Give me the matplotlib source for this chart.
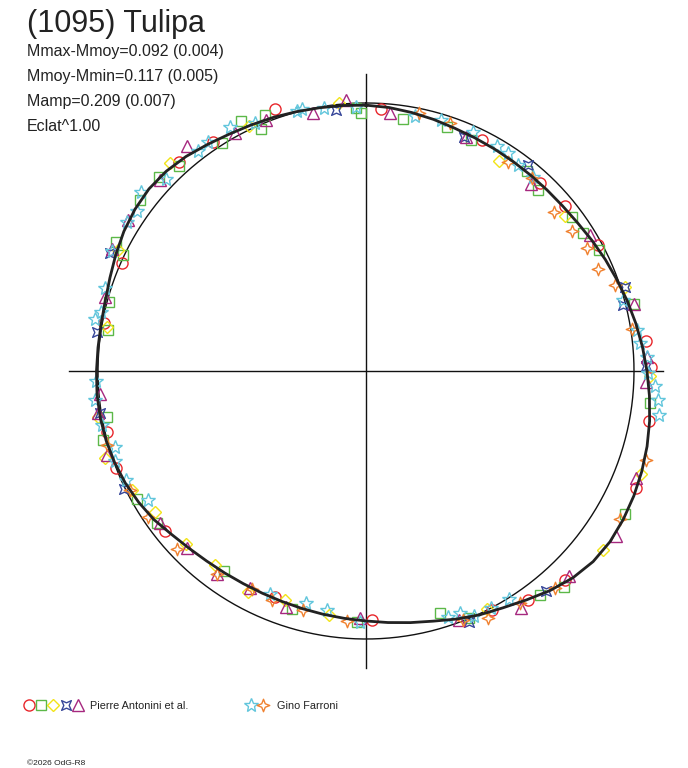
import numpy as np
import matplotlib
matplotlib.use("Agg")
import matplotlib.pyplot as plt
from matplotlib.path import Path

plt.rcParams['font.family'] = ['Liberation Sans', 'DejaVu Sans']

# --- données (phase 0-1, écart de magnitude au niveau moyen) ---
title = "(1095) Tulipa"
stats = ["Mmax-Mmoy=0.092 (0.004)", "Mmoy-Mmin=0.117 (0.005)",
         "Mamp=0.209 (0.007)", "Eclat^1.00"]

# courbe ajustée, relevée tous les 5 degrés de phase
curve_phase = [0.0000, 0.0139, 0.0278, 0.0417, 0.0556, 0.0694, 0.0833, 0.0972, 0.1111, 0.1250,
               0.1389, 0.1528, 0.1667, 0.1806, 0.1944, 0.2083, 0.2222, 0.2361, 0.2500, 0.2639,
               0.2778, 0.2917, 0.3056, 0.3194, 0.3333, 0.3472, 0.3611, 0.3750, 0.3889, 0.4028,
               0.4167, 0.4306, 0.4444, 0.4583, 0.4722, 0.4861, 0.5000, 0.5139, 0.5278, 0.5417,
               0.5556, 0.5694, 0.5833, 0.5972, 0.6111, 0.6250, 0.6389, 0.6528, 0.6667, 0.6806,
               0.6944, 0.7083, 0.7222, 0.7361, 0.7500, 0.7639, 0.7778, 0.7917, 0.8056, 0.8194,
               0.8333, 0.8472, 0.8611, 0.8750, 0.8889, 0.9028, 0.9167, 0.9306, 0.9444, 0.9583,
               0.9722, 0.9861, 1.0000]
curve_dmag = [0.0089, 0.0143, 0.0225, 0.0308, 0.0392, 0.0442, 0.0476, 0.0497, 0.0506, 0.0497,
              0.0468, 0.0400, 0.0287, 0.0163, 0.0041, -0.0101, -0.0240, -0.0378, -0.0514, -0.0649,
              -0.0781, -0.0894, -0.0987, -0.1061, -0.1116, -0.1145, -0.1097, -0.0950, -0.0725, -0.0456,
              -0.0221, -0.0041, 0.0163, 0.0371, 0.0519, 0.0647, 0.0755, 0.0829, 0.0886, 0.0930,
              0.0961, 0.0965, 0.0952, 0.0908, 0.0842, 0.0733, 0.0582, 0.0371, 0.0225, 0.0102,
              0.0020, -0.0041, -0.0073, -0.0081, -0.0061, -0.0041, -0.0041, -0.0081, -0.0181, -0.0319,
              -0.0456, -0.0553, -0.0603, -0.0572, -0.0476, -0.0339, -0.0221, -0.0141, -0.0081, -0.0020,
              0.0028, 0.0061, 0.0089]

red_phase = [0.947, 0.009, 0.074, 0.119, 0.140, 0.171, 0.233, 0.248, 0.278, 0.315, 0.379,
             0.402, 0.423, 0.496, 0.561, 0.643, 0.691, 0.713, 0.779, 0.816, 0.884, 0.906]
red_dmag = [-0.036, 0.024, 0.041, 0.048, 0.041, 0.015, -0.054, -0.068, -0.077, -0.102, -0.081,
            -0.050, -0.010, 0.080, 0.105, 0.047, -0.001, 0.009, 0.007, 0.004, -0.048, -0.030]

green_phase = [0.926, 0.940, 0.935, 0.994, 0.997, 0.023, 0.051, 0.068, 0.108, 0.121, 0.148, 0.160,
               0.174, 0.211, 0.268, 0.330, 0.382, 0.395, 0.437, 0.453, 0.506, 0.548, 0.598, 0.650,
               0.669, 0.709, 0.722, 0.775, 0.792, 0.821, 0.826, 0.853, 0.870, 0.882, 0.910]
green_dmag = [-0.045, -0.029, 0.018, 0.021, 0.040, 0.056, 0.044, 0.058, 0.048, 0.075, 0.046, 0.043,
              0.022, -0.034, -0.070, -0.108, -0.096, -0.060, 0.000, 0.061, 0.072, 0.079, 0.097, 0.038,
              0.022, -0.015, 0.019, 0.027, 0.009, -0.005, -0.052, -0.060, -0.062, -0.037, -0.006]

yellow_phase = [0.929, 0.984, 0.090, 0.145, 0.200, 0.253, 0.307, 0.353, 0.425, 0.524, 0.554,
                0.578, 0.605, 0.628, 0.656, 0.675, 0.699, 0.723, 0.777, 0.822, 0.880]
yellow_dmag = [-0.013, -0.007, 0.080, 0.066, -0.017, -0.063, -0.098, -0.114, 0.004, 0.089, 0.109,
               0.075, 0.094, 0.077, 0.060, 0.021, -0.027, -0.014, 0.020, -0.031, -0.069]

blue_phase = [0.982, 0.063, 0.106, 0.200, 0.210, 0.247, 0.391, 0.438, 0.678, 0.725, 0.773, 0.819]
blue_dmag = [0.022, 0.059, 0.026, -0.016, 0.012, -0.048, -0.065, -0.012, -0.006, -0.005, -0.016, -0.054]

purple_phase = [0.920, 0.940, 0.968, 0.988, 0.015, 0.064, 0.115, 0.163, 0.211, 0.242, 0.256,
                0.310, 0.343, 0.376, 0.408, 0.443, 0.504, 0.552, 0.578, 0.601, 0.626, 0.649,
                0.700, 0.725, 0.736, 0.794, 0.821, 0.840, 0.869, 0.893]
purple_dmag = [-0.014, -0.010, 0.020, -0.015, 0.038, 0.056, 0.079, 0.024, -0.031, -0.054, -0.048,
               -0.086, -0.121, -0.080, -0.059, 0.007, 0.087, 0.080, 0.093, 0.069, 0.070, 0.049,
               -0.018, -0.012, 0.004, -0.014, -0.054, -0.054, -0.053, -0.078]

cyan_phase = [0.919, 0.933, 0.962, 0.975, 0.994, 0.030, 0.046, 0.067, 0.084, 0.092, 0.101, 0.113,
              0.207, 0.226, 0.234, 0.242, 0.251, 0.258, 0.266, 0.274, 0.411, 0.423, 0.434, 0.441,
              0.449, 0.504, 0.526, 0.540, 0.565, 0.665, 0.682, 0.695, 0.703, 0.718, 0.733, 0.744,
              0.780, 0.785, 0.799, 0.820, 0.839, 0.847, 0.857, 0.872, 0.896, 0.904, 0.959]
cyan_dmag = [-0.046, -0.014, -0.006, 0.008, 0.016, 0.035, 0.024, 0.026, 0.032, 0.031, 0.050, 0.048,
             0.004, -0.023, -0.029, -0.052, -0.057, -0.084, -0.099, -0.108, -0.006, 0.001, 0.003, 0.033,
             0.038, 0.072, 0.108, 0.122, 0.108, 0.062, 0.019, 0.004, 0.022, -0.007, -0.018, -0.008,
             -0.030, -0.015, -0.022, -0.051, -0.053, -0.044, -0.076, -0.037, -0.035, -0.041, -0.004]

orange_phase = [0.032, 0.052, 0.095, 0.113, 0.138, 0.155, 0.169, 0.184, 0.197, 0.225, 0.299, 0.334,
                0.386, 0.407, 0.427, 0.441, 0.512, 0.541, 0.562, 0.577, 0.601, 0.630, 0.656, 0.676, 0.706]
orange_dmag = [0.020, 0.024, 0.062, 0.058, 0.093, 0.082, 0.064, 0.062, 0.019, -0.004, -0.100, -0.099,
               -0.078, -0.041, -0.030, 0.005, 0.073, 0.087, 0.085, 0.094, 0.069, 0.035, 0.024, 0.015, -0.006]

observers = ["Pierre Antonini et al.", "Gino Farroni"]


def to_xy(phase, dmag):
    # rayon = éclat relatif ^ 1.00, phase 0 en haut, sens horaire
    ph = 2 * np.pi * np.asarray(phase)
    r = 10 ** (-0.4 * np.asarray(dmag))
    return r * np.sin(ph), r * np.cos(ph)


# étoile 4 branches "pincée" (pointes aux coins)
pinch = Path([(-1, -1), (0, -0.55), (1, -1), (0.55, 0), (1, 1), (0, 0.55),
              (-1, 1), (-0.55, 0), (-1, -1)], closed=True)
# étoile 4 branches (pointes haut/bas/gauche/droite)
spark = Path([(0, 1), (0.28, 0.28), (1, 0), (0.28, -0.28), (0, -1), (-0.28, -0.28),
              (-1, 0), (-0.28, 0.28), (0, 1)], closed=True)

fig = plt.figure(figsize=(6.88, 7.68), dpi=100)
ax = fig.add_axes([46 / 688, 77 / 768, 640 / 688, 640 / 768])
ax.set_xlim(-1.194, 1.194)
ax.set_ylim(-1.194, 1.194)
ax.set_aspect('equal')
ax.axis('off')

# axes et cercle de référence (niveau moyen)
ax.plot([-1.11, 1.11], [0, 0], color='#111111', lw=1)
ax.plot([0, 0], [-1.11, 1.11], color='#111111', lw=1)
t = np.linspace(0, 2 * np.pi, 400)
ax.plot(np.sin(t), np.cos(t), color='#111111', lw=1)

sessions = [
    (red_phase, red_dmag, dict(marker='o', color='#e8262b', ms=8)),
    (green_phase, green_dmag, dict(marker='s', color='#5cb848', ms=6.5)),
    (yellow_phase, yellow_dmag, dict(marker='D', color='#f2e418', ms=6)),
    (blue_phase, blue_dmag, dict(marker=pinch, color='#38479a', ms=7)),
    (purple_phase, purple_dmag, dict(marker='^', color='#a6287f', ms=8)),
    (cyan_phase, cyan_dmag, dict(marker='*', color='#62c6dc', ms=10)),
    (orange_phase, orange_dmag, dict(marker=spark, color='#f0812f', ms=9)),
]
for ph, dm, st in sessions:
    x, y = to_xy(ph, dm)
    ax.plot(x, y, ls='none', marker=st['marker'], ms=st['ms'], mfc='none',
            mec=st['color'], mew=1)

cx, cy = to_xy(curve_phase, curve_dmag)
ax.plot(cx, cy, color='#222222', lw=2, zorder=5)

# textes
fig.text(27 / 688, 1 - 32 / 768, title, fontsize=22, color='#222222', va='baseline')
for i, s in enumerate(stats):
    fig.text(27 / 688, 1 - (56 + 25 * i) / 768, s, fontsize=11.5, color='#222222', va='baseline')

# légende
lg = fig.add_axes([0, 0, 1, 1])
lg.set_xlim(0, 688)
lg.set_ylim(768, 0)
lg.axis('off')
leg_x = [29, 41, 53, 66, 78]
for xx, (_, _, st) in zip(leg_x, sessions[:5]):
    lg.plot(xx, 705, ls='none', marker=st['marker'], ms=st['ms'], mfc='none',
            mec=st['color'], mew=1)
lg.text(90, 709, observers[0], fontsize=7.8, color='#222222', va='baseline')
for xx, (_, _, st) in zip([251, 263], sessions[5:]):
    lg.plot(xx, 705, ls='none', marker=st['marker'], ms=st['ms'], mfc='none',
            mec=st['color'], mew=1)
lg.text(277, 709, observers[1], fontsize=7.8, color='#222222', va='baseline')
lg.text(27, 765, "\u00a92026 OdG-R8", fontsize=6, color='#222222', va='baseline')

fig.savefig('out.png', dpi=100)
